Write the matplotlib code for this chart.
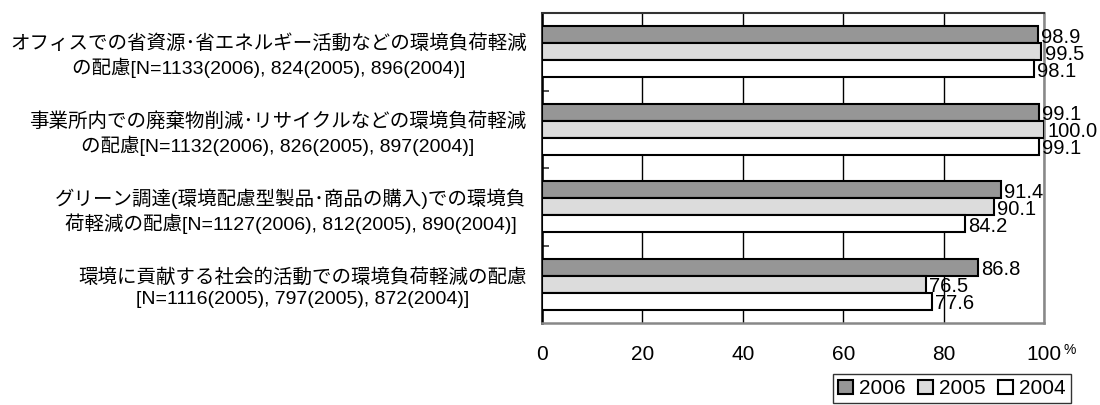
import matplotlib
matplotlib.use('Agg')
import matplotlib.pyplot as plt
import numpy as np

plt.rcParams['font.family'] = ['Liberation Sans', 'Noto Sans CJK JP', 'DejaVu Sans']

categories = [
    'オフィスでの省資源･省エネルギー活動などの環境負荷軽減\nの配慮[N=1133(2006), 824(2005), 896(2004)]',
    '事業所内での廃棄物削減･リサイクルなどの環境負荷軽減\nの配慮[N=1132(2006), 826(2005), 897(2004)]',
    'グリーン調達(環境配慮型製品･商品の購入)での環境負\n荷軽減の配慮[N=1127(2006), 812(2005), 890(2004)]',
    '環境に貢献する社会的活動での環境負荷軽減の配慮\n[N=1116(2005), 797(2005), 872(2004)]',
]
years = ['2006', '2005', '2004']
v2006 = [98.9, 99.1, 91.4, 86.8]
v2005 = [99.5, 100.0, 90.1, 76.5]
v2004 = [98.1, 99.1, 84.2, 77.6]
colors = ['#969696', '#dcdcdc', '#ffffff']

fig = plt.figure(figsize=(11, 4.05), dpi=100)
ax = fig.add_axes([542 / 1100, 82 / 405, 502 / 1100, 310 / 405])

y = np.arange(len(categories))
h = 0.22
for i, (vals, col) in enumerate(zip([v2006, v2005, v2004], colors)):
    pos = y + (i - 1) * h
    ax.barh(pos, vals, height=h, color=col, edgecolor='black', linewidth=1.5,
            label=years[i], zorder=3)
    for p, v in zip(pos, vals):
        ax.text(v + 0.6, p + 0.03, f'{v:.1f}', va='center', ha='left', fontsize=14.5)

ax.set_xlim(0, 100)
ax.set_ylim(len(categories) - 0.5, -0.5)
ax.set_xticks([0, 20, 40, 60, 80, 100])
ax.set_xticklabels(['0', '20', '40', '60', '80', '100'], fontsize=15)
ax.tick_params(axis='x', length=0, pad=16)
ax.xaxis.grid(True, color='black', linewidth=1, zorder=0)
ax.annotate('%', xy=(100, 0), xycoords=('data', 'axes fraction'),
            xytext=(14, -22), textcoords='offset points', fontsize=10)

ax.set_yticks(y)
ax.set_yticklabels(categories, fontsize=14, multialignment='center', linespacing=1.3)
ax.tick_params(axis='y', length=0, pad=11)
ax.set_yticks(np.arange(len(categories) - 1) + 0.5, minor=True)
ax.tick_params(axis='y', which='minor', direction='in', length=5, width=1.2, color='#333333')

ax.spines['left'].set_color('black')
ax.spines['left'].set_linewidth(1.8)
ax.spines['top'].set_color('#333333')
ax.spines['top'].set_linewidth(1.5)
for s in ['right', 'bottom']:
    ax.spines[s].set_color('#888888')
    ax.spines[s].set_linewidth(1.8)

leg = ax.legend(loc='upper left', bbox_to_anchor=(833 / 1100, 31 / 405), bbox_transform=fig.transFigure,
                ncol=3, frameon=True, fancybox=False, fontsize=15, handlelength=0.7, handleheight=0.7,
                handletextpad=0.3, columnspacing=0.6, borderpad=0.25, borderaxespad=0)
leg.get_frame().set_edgecolor('black')
leg.get_frame().set_linewidth(1.0)

fig.savefig('out.png', dpi=100)
